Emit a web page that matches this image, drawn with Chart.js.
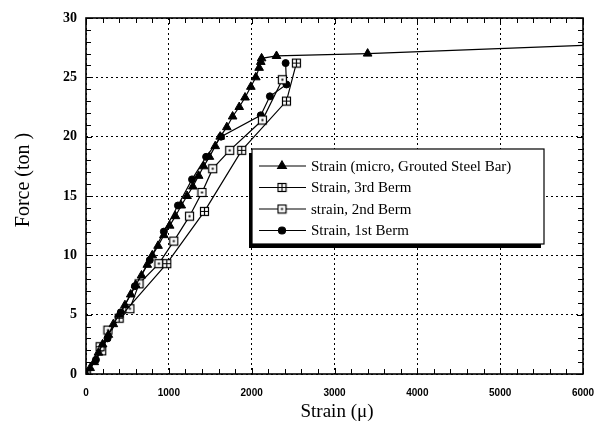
<!DOCTYPE html>
<html lang="en">
<head>
<meta charset="UTF-8">
<title>Force vs Strain</title>
<script src="https://cdn.jsdelivr.net/npm/chart.js"></script>
<style>
  body { margin: 0; background: #fff; }
  canvas { display: block; }
</style>
</head>
<body>
<canvas id="chart" width="603" height="434"></canvas>
<script>
// --- data ---
const steelStrain = [0, 50, 100, 150, 200, 270, 330, 400, 470, 540, 600, 670, 740, 800, 870, 940, 1010, 1080, 1150, 1220, 1290, 1360, 1420, 1490, 1560, 1620, 1700, 1770, 1850, 1920, 1990, 2050, 2090, 2110, 2120, 2300, 3400, 6000];
const steelForce  = [0, 0.5, 1, 1.8, 2.5, 3.3, 4.2, 5, 5.8, 6.7, 7.5, 8.3, 9.2, 10, 10.8, 11.7, 12.5, 13.3, 14.2, 15, 15.8, 16.7, 17.5, 18.3, 19.2, 20, 20.8, 21.7, 22.5, 23.3, 24.2, 25, 25.8, 26.3, 26.6, 26.8, 27.0, 27.7];

const berm3Strain = [0, 170, 400, 975, 1430, 1880, 2420, 2540];
const berm3Force  = [0, 2.3, 4.7, 9.3, 13.7, 18.85, 23.0, 26.2];

const berm2Strain = [0, 190, 265, 530, 640, 880, 1060, 1250, 1400, 1530, 1735, 2130, 2370];
const berm2Force  = [0, 1.95, 3.7, 5.5, 7.6, 9.3, 11.2, 13.3, 15.3, 17.3, 18.85, 21.4, 24.8];

const berm1Strain = [0, 120, 260, 420, 590, 770, 940, 1110, 1280, 1450, 1630, 2110, 2220, 2420, 2410];
const berm1Force  = [0, 1.2, 3.0, 5.2, 7.4, 9.6, 12.0, 14.2, 16.4, 18.3, 20.0, 21.8, 23.4, 24.4, 26.2];

const xTicks = [0, 1000, 2000, 3000, 4000, 5000, 6000];
const yTicks = [0, 5, 10, 15, 20, 25, 30];

const seriesNames = ['Strain (micro, Grouted Steel Bar)', 'Strain, 3rd Berm', 'strain, 2nd Berm', 'Strain, 1st Berm'];

const toPoints = (xs, ys) => xs.map((v, i) => ({ x: v, y: ys[i] }));

// boxed markers drawn once into tiny canvases
function makeBox(kind) {
    const c = document.createElement('canvas');
    c.width = 11; c.height = 11;
    const g = c.getContext('2d');
    g.fillStyle = '#fff';
    g.fillRect(1, 1, 9, 9);
    g.strokeStyle = '#000';
    g.lineWidth = 1.2;
    g.strokeRect(1.5, 1.5, 8, 8);
    if (kind === 'cross') {
        g.beginPath();
        g.moveTo(5.5, 1.5); g.lineTo(5.5, 9.5);
        g.moveTo(1.5, 5.5); g.lineTo(9.5, 5.5);
        g.stroke();
    } else {
        g.fillStyle = '#000';
        g.fillRect(4.5, 4.5, 2, 2);
    }
    return c;
}
const crossBox = makeBox('cross');
const dotBox = makeBox('dot');

const SERIF = '"Liberation Serif", "DejaVu Serif", serif';

const markers = [
    { pointStyle: 'triangle', radius: 5 },
    { pointStyle: crossBox, radius: 5 },
    { pointStyle: dotBox, radius: 5 },
    { pointStyle: 'circle', radius: 3.5 }
];

// frame, minor ticks, axis titles and the boxed legend
const decor = {
    id: 'decor',
    beforeDatasetsDraw(chart) {
        const { ctx, chartArea: a, scales: { x, y } } = chart;
        ctx.save();
        ctx.strokeStyle = '#000';
        ctx.lineWidth = 1;
        ctx.beginPath();
        for (let v = 0; v <= 6000; v += 200) {
            const px = Math.round(x.getPixelForValue(v)) + 0.5;
            const len = v % 1000 === 0 ? 6 : 5;
            ctx.moveTo(px, a.bottom); ctx.lineTo(px, a.bottom - len);
            ctx.moveTo(px, a.top); ctx.lineTo(px, a.top + len);
        }
        for (let v = 0; v <= 30; v += 1) {
            const py = Math.round(y.getPixelForValue(v)) + 0.5;
            const len = v % 5 === 0 ? 6 : 5;
            ctx.moveTo(a.left, py); ctx.lineTo(a.left + len, py);
            ctx.moveTo(a.right, py); ctx.lineTo(a.right - len, py);
        }
        ctx.stroke();
        ctx.lineWidth = 1.6;
        ctx.strokeRect(a.left, a.top, a.right - a.left, a.bottom - a.top);
        ctx.restore();
    },
    afterDraw(chart) {
        const { ctx } = chart;
        ctx.save();
        // axis titles
        ctx.fillStyle = '#000';
        ctx.font = '19px ' + SERIF;
        ctx.textAlign = 'center';
        ctx.textBaseline = 'middle';
        ctx.fillText('Strain (\u03bc)', 337, 412);
        ctx.translate(24, 180);
        ctx.rotate(-Math.PI / 2);
        ctx.font = '20px ' + SERIF;
        ctx.fillText('Force (ton )', 0, 0);
        ctx.restore();

        // legend box with offset shadow
        const bx = 252, by = 149, bw = 292, bh = 95;
        ctx.save();
        ctx.fillStyle = '#000';
        ctx.fillRect(bx - 3, by + 4, bw, bh);
        ctx.fillStyle = '#fff';
        ctx.fillRect(bx, by, bw, bh);
        ctx.strokeStyle = '#000';
        ctx.lineWidth = 1.2;
        ctx.strokeRect(bx, by, bw, bh);
        ctx.font = '15px ' + SERIF;
        ctx.textAlign = 'left';
        ctx.textBaseline = 'middle';
        seriesNames.forEach((name, i) => {
            const ry = 166 + i * 21.5;
            ctx.strokeStyle = '#000';
            ctx.lineWidth = 1.2;
            ctx.beginPath();
            ctx.moveTo(259, ry); ctx.lineTo(306, ry);
            ctx.stroke();
            ctx.fillStyle = '#000';
            Chart.helpers.drawPoint(ctx, { pointStyle: markers[i].pointStyle, radius: markers[i].radius, rotation: 0, borderWidth: 1 }, 282, ry);
            ctx.fillStyle = '#000';
            ctx.fillText(name, 311, ry + 1);
        });
        ctx.restore();
    }
};

const makeSet = (label, xs, ys, m) => ({
    label: label,
    data: toPoints(xs, ys),
    showLine: true,
    borderColor: '#000',
    borderWidth: 1.2,
    backgroundColor: '#000',
    pointBackgroundColor: '#000',
    pointBorderColor: '#000',
    pointBorderWidth: 1,
    pointStyle: m.pointStyle,
    pointRadius: m.radius,
    tension: 0
});

const steelSet = makeSet(seriesNames[0], steelStrain, steelForce, markers[0]);
// the flat tail runs off the right edge without a marker
steelSet.pointRadius = (c) => c.dataIndex === steelStrain.length - 1 ? 0 : markers[0].radius;

new Chart(document.getElementById('chart'), {
    type: 'scatter',
    data: {
        datasets: [
            steelSet,
            makeSet(seriesNames[1], berm3Strain, berm3Force, markers[1]),
            makeSet(seriesNames[2], berm2Strain, berm2Force, markers[2]),
            makeSet(seriesNames[3], berm1Strain, berm1Force, markers[3])
        ]
    },
    options: {
        responsive: false,
        animation: false,
        layout: { padding: { left: 0, right: 20, top: 18, bottom: 0 } },
        plugins: { legend: { display: false }, tooltip: { enabled: false } },
        scales: {
            x: {
                type: 'linear',
                min: 0, max: 6000,
                afterBuildTicks: (s) => { s.ticks = xTicks.map(v => ({ value: v })); },
                afterFit: (s) => { s.height = 60; s.paddingLeft = 0; s.paddingRight = 0; },
                grid: { color: '#000', lineWidth: 1, drawTicks: false },
                border: { display: false, dash: [2, 3] },
                ticks: {
                    padding: 13,
                    color: '#000',
                    maxRotation: 0,
                    callback: (v) => String(v),
                    font: { family: '"Liberation Sans", Arial, sans-serif', size: 10, weight: 'bold' }
                }
            },
            y: {
                type: 'linear',
                min: 0, max: 30,
                afterBuildTicks: (s) => { s.ticks = yTicks.map(v => ({ value: v })); },
                afterFit: (s) => { s.width = 86; s.paddingTop = 0; s.paddingBottom = 0; },
                grid: { color: '#000', lineWidth: 1, drawTicks: false },
                border: { display: false, dash: [2, 3] },
                ticks: {
                    padding: 9,
                    color: '#000',
                    callback: (v) => String(v),
                    font: { family: SERIF, size: 14, weight: 'bold' }
                }
            }
        }
    },
    plugins: [decor]
});
</script>
</body>
</html>
